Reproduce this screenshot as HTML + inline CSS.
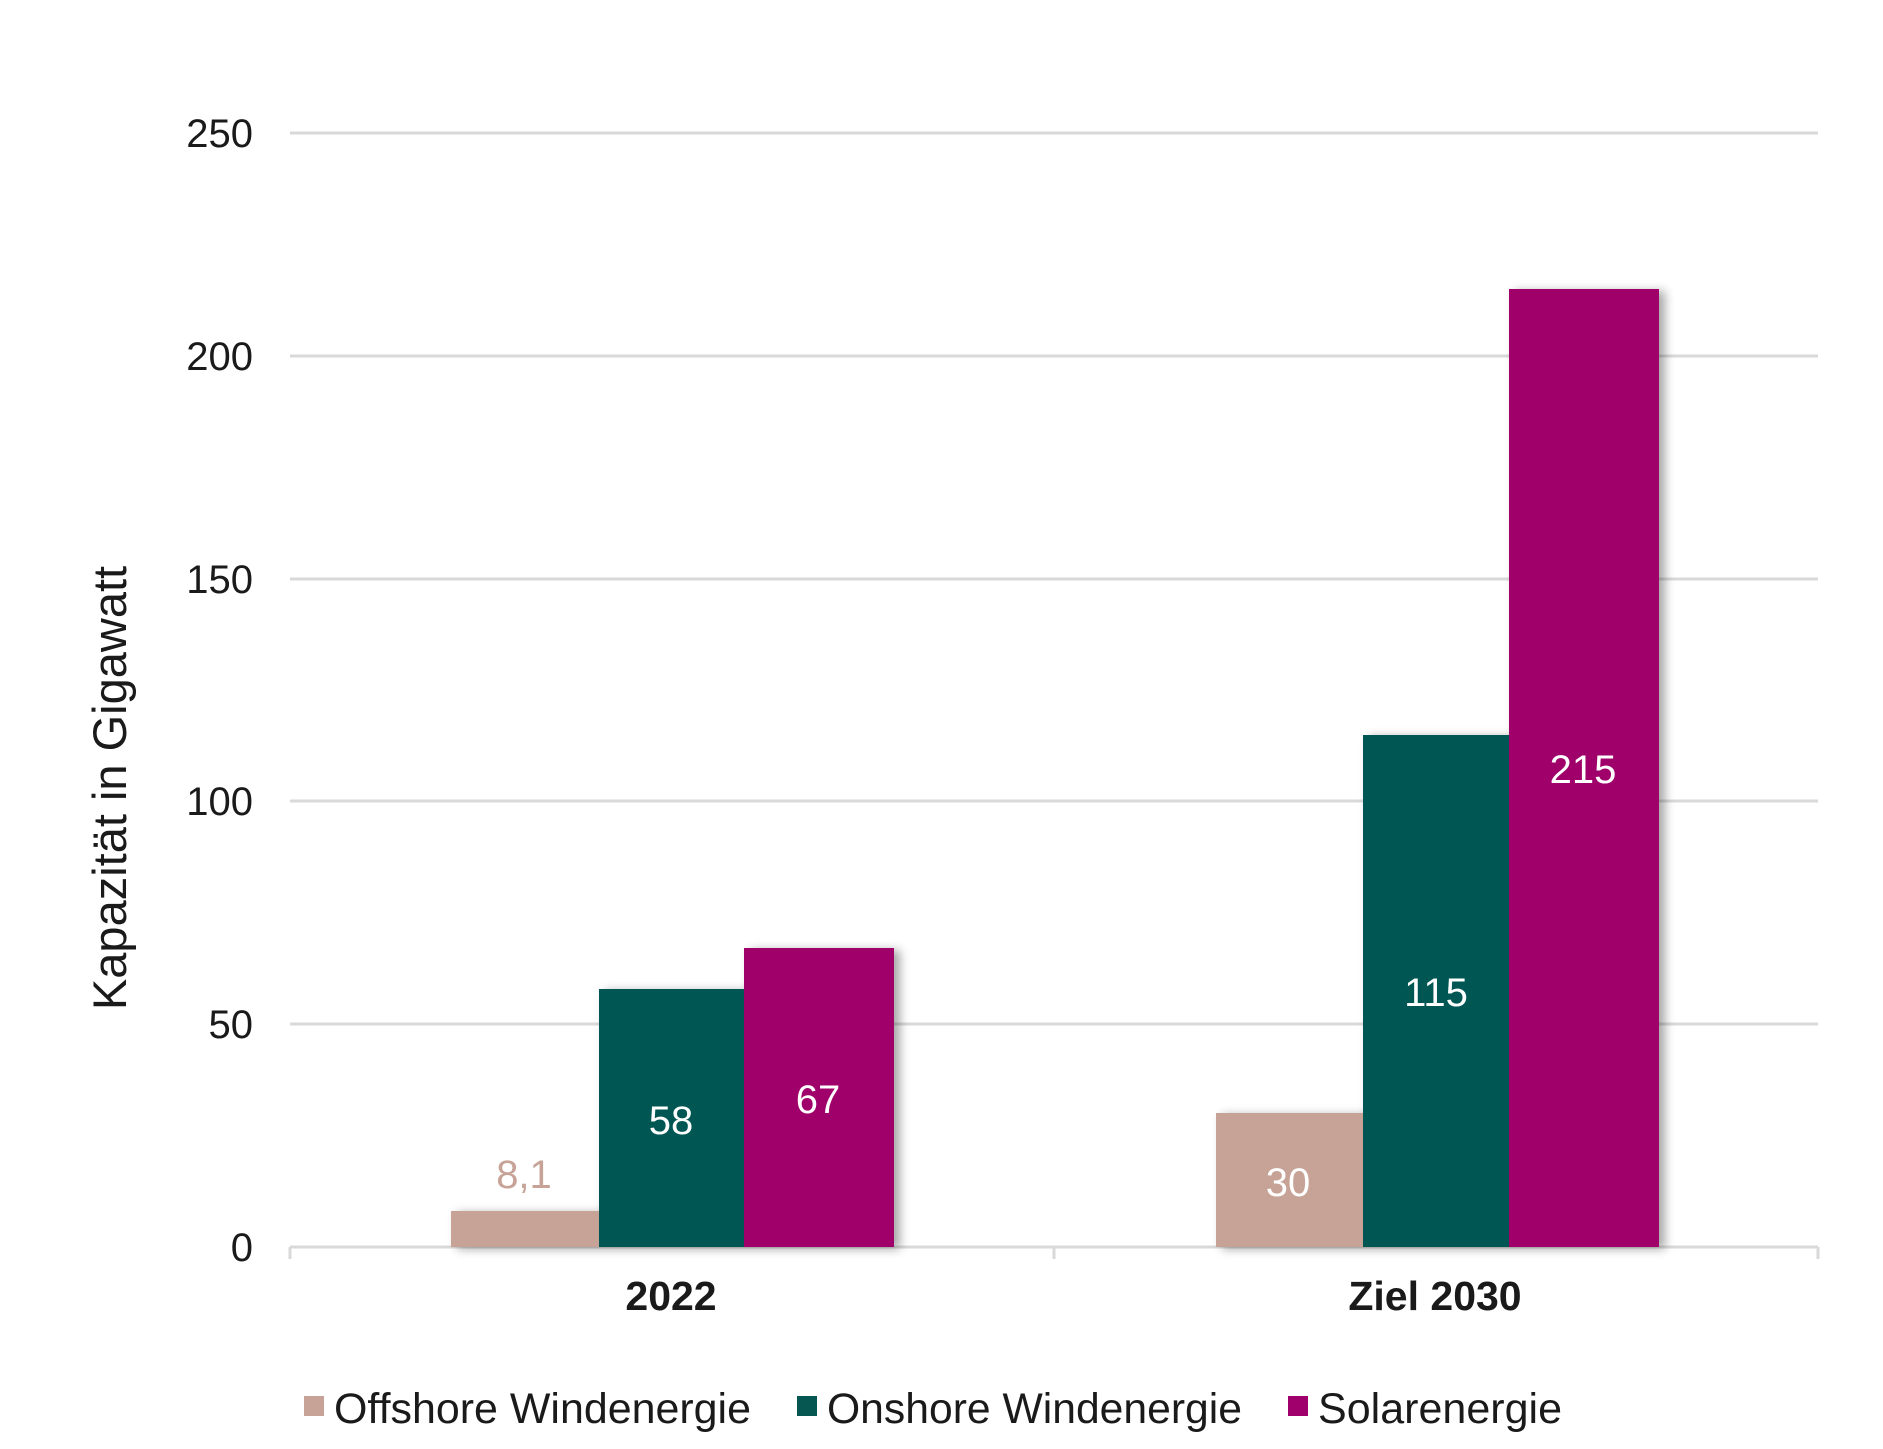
<!DOCTYPE html>
<html><head><meta charset="utf-8"><style>
html,body{margin:0;padding:0;background:#fff}
svg{display:block}
text{font-family:"Liberation Sans",Arial,sans-serif}
</style></head><body>
<svg width="1883" height="1449" viewBox="0 0 1883 1449" xmlns="http://www.w3.org/2000/svg">
<defs>
<filter id="sh" x="-10%" y="-10%" width="130%" height="120%">
<feGaussianBlur in="SourceAlpha" stdDeviation="5"/>
<feOffset dx="6" dy="2"/>
<feComponentTransfer><feFuncA type="linear" slope="0.35"/></feComponentTransfer>
<feMerge><feMergeNode/><feMergeNode in="SourceGraphic"/></feMerge>
</filter>
</defs>
<g stroke="#d9d9d9" stroke-width="3">
<line x1="290" y1="133" x2="1818" y2="133"/>
<line x1="290" y1="356" x2="1818" y2="356"/>
<line x1="290" y1="579" x2="1818" y2="579"/>
<line x1="290" y1="801" x2="1818" y2="801"/>
<line x1="290" y1="1024" x2="1818" y2="1024"/>
<line x1="290" y1="1247" x2="1818" y2="1247"/>
<line x1="290" y1="1247" x2="290" y2="1259"/>
<line x1="1054" y1="1247" x2="1054" y2="1259"/>
<line x1="1818" y1="1247" x2="1818" y2="1259"/>
</g>
<g font-size="40" fill="#1a1a1a" text-anchor="end">
<text x="253" y="147">250</text>
<text x="253" y="370">200</text>
<text x="253" y="593">150</text>
<text x="253" y="815">100</text>
<text x="253" y="1038">50</text>
<text x="253" y="1261">0</text>
</g>
<text transform="translate(126,788) rotate(-90)" font-size="47" fill="#1a1a1a" text-anchor="middle">Kapazität in Gigawatt</text>
<g filter="url(#sh)">
<rect x="451" y="1211" width="148" height="36" fill="#c6a396"/>
<rect x="599" y="989" width="145" height="258" fill="#065752"/>
<rect x="744" y="948" width="150" height="299" fill="#a0006b"/>
<rect x="1216" y="1113" width="147" height="134" fill="#c6a396"/>
<rect x="1363" y="735" width="146" height="512" fill="#065752"/>
<rect x="1509" y="289" width="150" height="958" fill="#a0006b"/>
</g>
<g font-size="40" text-anchor="middle">
<text x="524" y="1188" fill="#c6a396">8,1</text>
<text x="671" y="1134" fill="#fff">58</text>
<text x="818" y="1113" fill="#fff">67</text>
<text x="1288" y="1196" fill="#fff">30</text>
<text x="1436" y="1006" fill="#fff">115</text>
<text x="1583" y="783" fill="#fff">215</text>
</g>
<g font-size="41" font-weight="bold" fill="#1a1a1a" text-anchor="middle">
<text x="671" y="1310">2022</text>
<text x="1435" y="1310">Ziel 2030</text>
</g>
<g font-size="43" fill="#1a1a1a">
<rect x="304" y="1396" width="20" height="20" fill="#c6a396"/>
<text x="334" y="1423" textLength="417" lengthAdjust="spacingAndGlyphs">Offshore Windenergie</text>
<rect x="797" y="1396" width="20" height="20" fill="#065752"/>
<text x="827" y="1423" textLength="415" lengthAdjust="spacingAndGlyphs">Onshore Windenergie</text>
<rect x="1288" y="1396" width="20" height="20" fill="#a0006b"/>
<text x="1318" y="1423" textLength="244" lengthAdjust="spacingAndGlyphs">Solarenergie</text>
</g>
</svg>
</body></html>
